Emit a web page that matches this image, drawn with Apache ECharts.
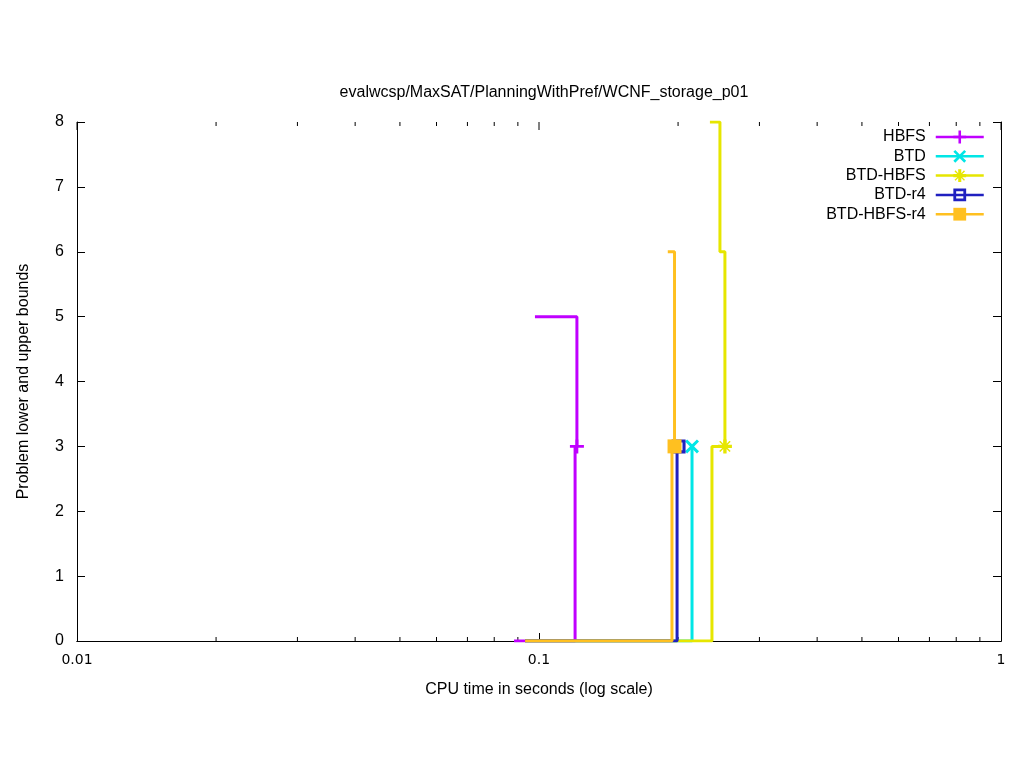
<!DOCTYPE html>
<html>
<head>
<meta charset="utf-8">
<title>WCNF_storage_p01</title>
<script src="https://cdn.jsdelivr.net/npm/echarts@6/dist/echarts.min.js"></script>
<style>
  html, body { margin: 0; padding: 0; background: #fff; }
  #chart { width: 1024px; height: 768px; }
</style>
</head>
<body>
<div id="chart"></div>
<script>
// solver names, same order as the legend
const solvers = ['HBFS', 'BTD', 'BTD-HBFS', 'BTD-r4', 'BTD-HBFS-r4'];
const colors = ['#c000ff', '#00e6e6', '#e6e600', '#2020c0', '#ffc020'];

// lower bound steps (time, value)
const lowerTimes = [
  [0.0883, 0.1197],
  [0.0933, 0.2144],
  [0.0933, 0.2368, 0.2510],
  [0.0933, 0.1990],
  [0.0933, 0.1940]
];
const lowerValues = [
  [0, 3],
  [0, 3],
  [0, 3, 3],
  [0, 3],
  [0, 3]
];

// upper bound steps, marker drawn on the last point
const upperTimes = [
  [0.0980, 0.1208],
  [0.2144],
  [0.2344, 0.2464, 0.2526],
  [0.2005],
  [0.1900, 0.1965]
];
const upperValues = [
  [5, 3],
  [3],
  [8, 6, 3],
  [3],
  [6, 3]
];

const yTicks = [0, 1, 2, 3, 4, 5, 6, 7, 8];
const majorTicks = [0.01, 0.1, 1];
const minorTicks = [0.02, 0.03, 0.04, 0.05, 0.06, 0.07, 0.08, 0.09,
                    0.2, 0.3, 0.4, 0.5, 0.6, 0.7, 0.8, 0.9];

// marker shapes (plus, cross, star, open square, filled square)
const symbols = [
  'path://M4,0h2v4h4v2h-4v4h-2v-4h-4v-2h4z',
  'path://M0,1.5L1.5,0L5,3.5L8.5,0L10,1.5L6.5,5L10,8.5L8.5,10L5,6.5L1.5,10L0,8.5L3.5,5Z',
  'path://M3.8,0h2.4v3.1L8.3,0.9L9.1,1.7L6.9,3.8h3.1v2.4h-3.1L9.1,8.3L8.3,9.1L6.2,6.9v3.1h-2.4v-3.1L1.7,9.1L0.9,8.3L3.1,6.2h-3.1v-2.4h3.1L0.9,1.7L1.7,0.9L3.8,3.1Z',
  'path://M0,0H10V10H0Z M2.2,2.2V7.8H7.8V2.2Z',
  'rect'
];

const font = 'Liberation Sans, Arial, sans-serif';

const chart = echarts.init(document.getElementById('chart'));

const series = [];
solvers.forEach((name, i) => {
  const up = upperTimes[i].map((t, k) => {
    const last = k === upperTimes[i].length - 1;
    return last ? { value: [t, upperValues[i][k]] } : { value: [t, upperValues[i][k]], symbol: 'none' };
  });
  series.push({
    name: name,
    type: 'line',
    step: 'end',
    data: up,
    symbol: symbols[i],
    symbolSize: 14,
    showAllSymbol: true,
    color: colors[i],
    lineStyle: { width: 3, color: colors[i] },
    itemStyle: { color: colors[i], borderWidth: 0 },
    emphasis: { disabled: true },
    z: 2 + i
  });
  series.push({
    name: name,
    type: 'line',
    step: 'end',
    data: lowerTimes[i].map((t, k) => [t, lowerValues[i][k]]),
    symbol: 'none',
    color: colors[i],
    lineStyle: { width: 3, color: colors[i] },
    emphasis: { disabled: true },
    z: 2 + i
  });
});

// log axis ticks: minor ticks bottom + top, major ticks on the top border
series.push({
  type: 'custom',
  silent: true,
  data: minorTicks.map(t => [t, 4]).concat(majorTicks.map(t => [t, 8])),
  renderItem: (params, api) => {
    const len = api.value(1);
    const b = api.coord([api.value(0), 0]);
    const t = api.coord([api.value(0), 8]);
    const style = { stroke: '#000', lineWidth: 1 };
    const children = [
      { type: 'line', shape: { x1: t[0], y1: t[1], x2: t[0], y2: t[1] + len }, style: style }
    ];
    if (len < 8) {
      children.push({ type: 'line', shape: { x1: b[0], y1: b[1], x2: b[0], y2: b[1] - len }, style: style });
    }
    return { type: 'group', children: children };
  },
  z: 1
});

const option = {
  animation: false,
  backgroundColor: '#ffffff',
  title: {
    text: 'evalwcsp/MaxSAT/PlanningWithPref/WCNF_storage_p01',
    left: 539,
    top: 80,
    textAlign: 'center',
    textStyle: { fontFamily: font, fontSize: 16, fontWeight: 'normal', color: '#000' }
  },
  legend: {
    data: solvers,
    orient: 'vertical',
    align: 'right',
    right: 39,
    top: 129,
    padding: 0,
    itemWidth: 48,
    itemHeight: 16,
    itemGap: 3.3,
    lineStyle: { width: 2.5 },
    textStyle: { fontFamily: font, fontSize: 16, color: '#000', lineHeight: 16, padding: [0, 5, 0, 0] }
  },
  grid: { left: 77, right: 23, top: 122, bottom: 127, containLabel: false },
  xAxis: [
    {
      type: 'log',
      logBase: 10,
      min: majorTicks[0],
      max: majorTicks[majorTicks.length - 1],
      name: 'CPU time in seconds (log scale)',
      nameLocation: 'middle',
      nameGap: 41,
      nameTextStyle: { fontFamily: font, fontSize: 16, color: '#000' },
      axisLine: { show: true, lineStyle: { color: '#000', width: 1 } },
      axisTick: { show: true, inside: true, length: 8, lineStyle: { color: '#000' } },
      axisLabel: { fontFamily: 'DejaVu Sans, sans-serif', fontSize: 14, color: '#000', margin: 12 },
      splitLine: { show: false },
      minorTick: { show: false }
    },
    {
      type: 'log',
      logBase: 10,
      min: majorTicks[0],
      max: majorTicks[majorTicks.length - 1],
      position: 'top',
      axisLine: { show: true, lineStyle: { color: '#000', width: 1 } },
      axisTick: { show: false },
      axisLabel: { show: false },
      splitLine: { show: false }
    }
  ],
  yAxis: [
    {
      type: 'value',
      min: yTicks[0],
      max: yTicks[yTicks.length - 1],
      interval: 1,
      name: 'Problem lower and upper bounds',
      nameLocation: 'middle',
      nameGap: 45,
      nameTextStyle: { fontFamily: font, fontSize: 16, color: '#000' },
      axisLine: { show: true, lineStyle: { color: '#000', width: 1 } },
      axisTick: { show: true, inside: true, length: 8, lineStyle: { color: '#000' } },
      axisLabel: { fontFamily: font, fontSize: 16, color: '#000', margin: 13 },
      splitLine: { show: false }
    },
    {
      type: 'value',
      min: yTicks[0],
      max: yTicks[yTicks.length - 1],
      interval: 1,
      position: 'right',
      axisLine: { show: true, lineStyle: { color: '#000', width: 1 } },
      axisTick: { show: true, inside: true, length: 8, lineStyle: { color: '#000' } },
      axisLabel: { show: false },
      splitLine: { show: false }
    }
  ],
  series: series
};

chart.setOption(option);
</script>
</body>
</html>
